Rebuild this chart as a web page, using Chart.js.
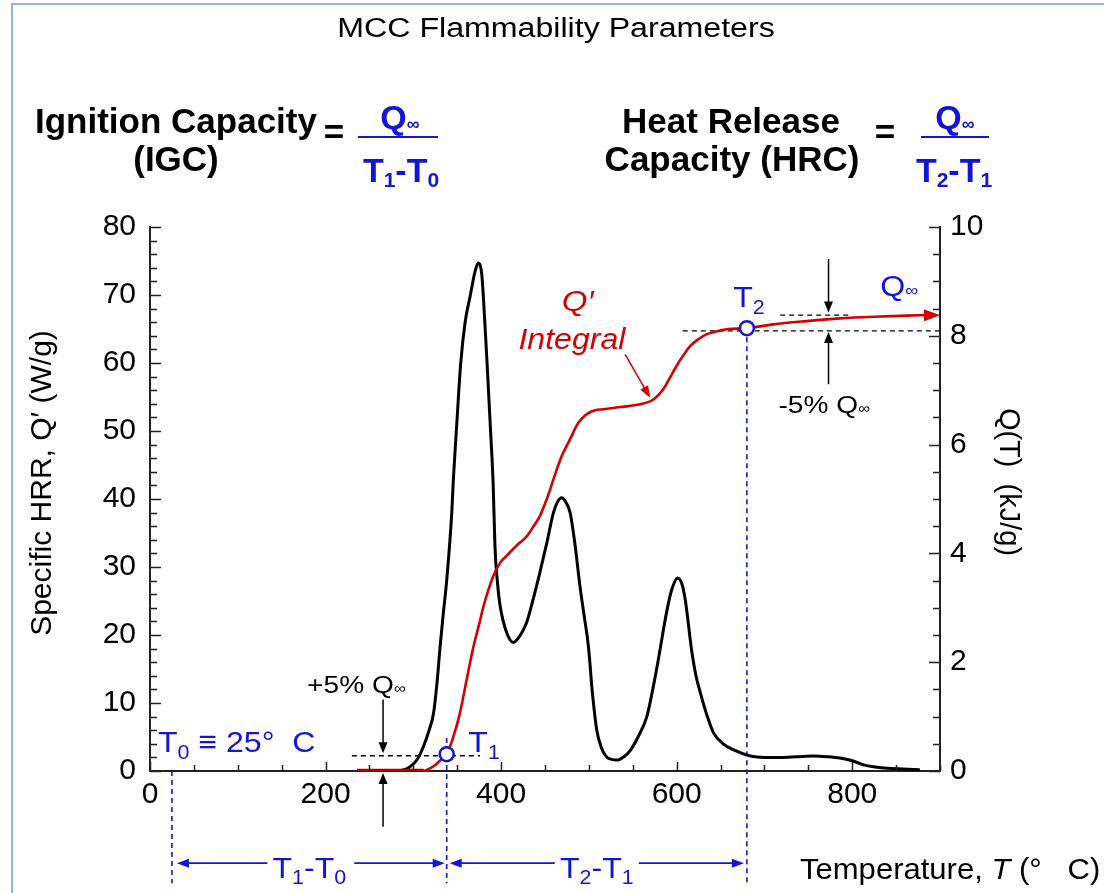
<!DOCTYPE html>
<html>
<head>
<meta charset="utf-8">
<script src="https://cdn.jsdelivr.net/npm/chart.js@4.4.1/dist/chart.umd.min.js"></script>
<style>
    html, body { margin: 0; padding: 0; background: #fff; }
    #wrap { position: relative; width: 1104px; height: 893px; overflow: hidden; }
    #frame { position: absolute; left: 11px; top: 3px; right: -4px; bottom: -4px; border-left: 2px solid #8db3e2; border-top: 2px solid #8db3e2; pointer-events: none; }
</style>
</head>
<body>
<div id="wrap"><canvas id="chart" width="1104" height="893"></canvas><div id="frame"></div></div>
<script>
// specific heat release rate (left axis, W/g)
var hrrTemp = [236, 280, 296, 305, 311.5, 318, 323, 327, 330.5, 334, 338, 343.8, 345.6, 349, 354, 359, 365, 370, 374, 378,
    381, 384, 388, 391, 393, 396, 399, 406.5, 414, 421, 429, 436, 444, 452, 459.6, 464, 469, 474, 478.6, 484,
    490, 495, 499.5, 504, 509, 514, 520, 526, 532, 540, 547, 556, 566, 575, 581, 588, 594, 601, 606, 610,
    617, 622, 627, 635, 642, 653, 665, 684, 700, 718, 737, 756, 771, 786, 800, 813, 826, 840, 858, 877];
var hrrRate = [0, 0, 0.6, 1.8, 3.6, 6, 8.5, 13, 18.3, 23, 28, 38, 42.9, 50, 60, 66, 70, 73.3, 74.7, 73,
    67, 60, 50, 42, 33, 27.5, 24.2, 20.3, 18.9, 19.8, 21.8, 25, 29.1, 33.5, 38, 39.5, 40.2, 39.5, 38, 33.5,
    27, 22.5, 18.3, 11.5, 6, 3.5, 2.1, 1.7, 1.6, 2.1, 3, 5, 8, 13.5, 17.8, 23, 26.5, 28.4, 27.5, 25,
    17.8, 14, 11.5, 8, 5.6, 4, 3.1, 2.2, 2.0, 2.0, 2.1, 2.2, 2.1, 1.9, 1.5, 0.9, 0.6, 0.4, 0.3, 0.2];

// integral Q(T) (right axis, kJ/g)
var qTemp = [236, 312, 318, 325, 331, 338, 345, 353, 361, 368.5, 375, 380, 391, 399, 406.5, 418, 429, 437, 444, 452,
    459.6, 468, 478.6, 488, 497.6, 507, 516.6, 535.6, 558.4, 573.6, 585, 592, 600, 608, 615.4, 624, 634.4, 645, 657, 680,
    710, 748, 786, 824, 862, 884];
var qHeat = [0, 0, 0.04, 0.11, 0.2, 0.31, 0.6, 1.06, 1.7, 2.29, 2.7, 3.03, 3.58, 3.83, 3.96, 4.15, 4.31, 4.5, 4.68, 5.0,
    5.36, 5.75, 6.1, 6.4, 6.56, 6.63, 6.65, 6.69, 6.74, 6.83, 7.02, 7.22, 7.45, 7.65, 7.81, 7.93, 8.03, 8.08, 8.12, 8.14,
    8.21, 8.27, 8.32, 8.35, 8.37, 8.38];

// T1 and T2 on the integral curve, T0 = 25 C
var markTemp = [338, 680];
var markHeat = [0.31, 8.14];
var T0 = 25;
var qPlus5 = 0.28;     // +5% level
var qMinus5 = 8.09;    // -5% level
var qInf = 8.38;       // Q infinity

var xTicks = [0, 200, 400, 600, 800];
var yTicks = [0, 10, 20, 30, 40, 50, 60, 70, 80];
var y1Ticks = [0, 2, 4, 6, 8, 10];

var FONT = "'Liberation Sans', Arial, sans-serif";
var BLUE = '#1414d8';
var RED = '#d20000';

function fnt(size, style) {
    return (style ? style + ' ' : '') + size + 'px ' + FONT;
}

// parts: [text, size, style, dy]; k = horizontal stretch
function drawRuns(ctx, x, y, parts, color, align, k) {
    k = k || 1;
    var w = 0;
    parts.forEach(function (p) {
        ctx.font = fnt(p[1], p[2]);
        w += ctx.measureText(p[0]).width;
    });
    var cx = align === 'center' ? x - w * k / 2 : x;
    ctx.save();
    ctx.translate(cx, y);
    ctx.scale(k, 1);
    ctx.fillStyle = color;
    ctx.textAlign = 'left';
    ctx.textBaseline = 'alphabetic';
    var run = 0;
    parts.forEach(function (p) {
        ctx.font = fnt(p[1], p[2]);
        ctx.fillText(p[0], run, p[3] || 0);
        run += ctx.measureText(p[0]).width;
    });
    ctx.restore();
}

function arrow(ctx, x1, y1, x2, y2, color, lw, hl, hw) {
    var a = Math.atan2(y2 - y1, x2 - x1);
    var c = Math.cos(a), s = Math.sin(a);
    ctx.save();
    ctx.setLineDash([]);
    ctx.strokeStyle = color;
    ctx.fillStyle = color;
    ctx.lineWidth = lw;
    ctx.beginPath();
    ctx.moveTo(x1, y1);
    ctx.lineTo(x2 - c * hl * 0.7, y2 - s * hl * 0.7);
    ctx.stroke();
    ctx.beginPath();
    ctx.moveTo(x2, y2);
    ctx.lineTo(x2 - c * hl - s * hw, y2 - s * hl + c * hw);
    ctx.lineTo(x2 - c * hl + s * hw, y2 - s * hl - c * hw);
    ctx.closePath();
    ctx.fill();
    ctx.restore();
}

function dashed(ctx, x1, y1, x2, y2, color, lw) {
    ctx.save();
    ctx.strokeStyle = color;
    ctx.lineWidth = lw;
    ctx.setLineDash([5, 4]);
    ctx.beginPath();
    ctx.moveTo(x1, y1);
    ctx.lineTo(x2, y2);
    ctx.stroke();
    ctx.restore();
}

var guides = {
    id: 'guides',
    beforeDatasetsDraw: function (chart) {
        var ctx = chart.ctx;
        var sx = chart.scales.x, sy = chart.scales.y, sq = chart.scales.y1;
        var X = function (v) { return sx.getPixelForValue(v); };
        var Y = function (v) { return sy.getPixelForValue(v); };
        var Q = function (v) { return sq.getPixelForValue(v); };
        var low = Y(-16.5);

        // blue verticals at T0, T1, T2
        dashed(ctx, X(T0), Y(0), X(T0), low, BLUE, 1.6);
        dashed(ctx, X(markTemp[0]), Y(4.86), X(markTemp[0]), low, BLUE, 1.6);
        dashed(ctx, X(markTemp[1]), Q(markHeat[1]), X(markTemp[1]), low, BLUE, 1.6);

        // black +-5% levels
        dashed(ctx, X(230), Q(qPlus5), X(376), Q(qPlus5), '#000', 1.4);
        dashed(ctx, X(607), Q(qMinus5), X(900), Q(qMinus5), '#000', 1.4);
        dashed(ctx, X(718), Q(qInf), X(800), Q(qInf), '#000', 1.4);
    },
    afterDraw: function (chart) {
        var ctx = chart.ctx;
        var area = chart.chartArea;
        var sx = chart.scales.x, sy = chart.scales.y, sq = chart.scales.y1;
        var X = function (v) { return sx.getPixelForValue(v); };
        var Y = function (v) { return sy.getPixelForValue(v); };
        var Q = function (v) { return sq.getPixelForValue(v); };
        var i, v, p, len;

        // inward tick marks
        ctx.save();
        ctx.strokeStyle = '#222';
        ctx.lineWidth = 1.5;
        ctx.beginPath();
        for (i = 0; i <= 40; i++) {
            v = i * 2;
            p = Math.round(Y(v)) + 0.5;
            len = v % 10 === 0 ? 11 : 7;
            ctx.moveTo(area.left, p);
            ctx.lineTo(area.left + len, p);
        }
        for (i = 0; i <= 20; i++) {
            v = i * 0.5;
            p = Math.round(Q(v)) + 0.5;
            len = i % 4 === 0 ? 11 : 7;
            ctx.moveTo(area.right, p);
            ctx.lineTo(area.right - len, p);
        }
        for (i = 0; i <= 18; i++) {
            v = i * 50;
            p = Math.round(X(v)) + 0.5;
            len = v % 200 === 0 ? 9 : 6;
            ctx.moveTo(p, area.bottom);
            ctx.lineTo(p, area.bottom - len);
        }
        ctx.stroke();
        ctx.restore();

        // red arrow head at the end of the integral
        arrow(ctx, X(884), Q(qInf), X(900), Q(qInf), RED, 3, 16, 6);

        // black pointer arrows
        arrow(ctx, X(265.5), Y(10.5), X(265.5), Y(2.6), '#000', 1.5, 11, 4.5);
        arrow(ctx, X(265.5), Y(-8.2), X(265.5), Y(-0.3), '#000', 1.5, 11, 4.5);
        arrow(ctx, X(773), Q(9.41), X(773), Q(8.43), '#000', 1.5, 11, 4.5);
        arrow(ctx, X(773), Q(7.11), X(773), Q(8.07), '#000', 1.5, 11, 4.5);
        // red pointer to the integral
        arrow(ctx, X(541.3), Q(7.66), X(569.8), Q(6.86), RED, 1.5, 12, 4.5);

        // blue span arrows below the axis
        var yb = Y(-13.55);
        var t1 = X(markTemp[0]), t2 = X(markTemp[1]), t0 = X(T0);
        var m1 = (t0 + t1) / 2, m2 = (t1 + t2) / 2;
        arrow(ctx, m1 - 42, yb, t0 + 5, yb, BLUE, 1.6, 12, 4.5);
        arrow(ctx, m1 + 45, yb, t1 - 2, yb, BLUE, 1.6, 12, 4.5);
        arrow(ctx, m2 - 42, yb, t1 + 3, yb, BLUE, 1.6, 12, 4.5);
        arrow(ctx, m2 + 42, yb, t2 - 3, yb, BLUE, 1.6, 12, 4.5);
        drawRuns(ctx, m1, Y(-15.76), [['T', 30], ['1', 20, '', 6], ['-T', 30], ['0', 20, '', 6]], BLUE, 'center', 1.07);
        drawRuns(ctx, m2, Y(-15.76), [['T', 30], ['2', 20, '', 6], ['-T', 30], ['1', 20, '', 6]], BLUE, 'center', 1.07);

        // in-plot labels
        drawRuns(ctx, X(9), Y(2.84), [['T', 30], ['0', 20, '', 7], [' \u2261 25\u00b0  C', 30]], BLUE, 'left', 1.07);
        drawRuns(ctx, X(362.7), Y(2.84), [['T', 30], ['1', 20, '', 7]], BLUE, 'left', 1.07);
        drawRuns(ctx, X(664.4), Q(8.53), [['T', 30], ['2', 20, '', 7]], BLUE, 'left', 1.07);
        drawRuns(ctx, X(832), Q(8.73), [['Q', 30], ['\u221e', 17, '', 0]], BLUE, 'left', 1.07);
        drawRuns(ctx, X(179), Y(11.5), [['+5% Q', 24], ['\u221e', 14, '', 0]], '#000', 'left', 1.17);
        drawRuns(ctx, X(716), Q(6.59), [['-5% Q', 24], ['\u221e', 14, '', 0]], '#000', 'left', 1.17);
        drawRuns(ctx, X(469.2), Q(8.46), [['Q\u2032', 30, 'italic']], RED, 'left', 1.1);
        drawRuns(ctx, X(419.7), Q(7.75), [['Integral', 30, 'italic']], RED, 'left', 1.07);

        // axis titles
        ctx.save();
        ctx.fillStyle = '#000';
        ctx.font = fnt(30);
        ctx.textAlign = 'center';
        ctx.textBaseline = 'middle';
        ctx.translate(43, 483);
        ctx.rotate(-Math.PI / 2);
        ctx.fillText('Specific HRR, Q\u2032 (W/g)', 0, 0);
        ctx.restore();
        ctx.save();
        ctx.fillStyle = '#000';
        ctx.font = fnt(29);
        ctx.textAlign = 'center';
        ctx.textBaseline = 'middle';
        ctx.translate(1008, 482);
        ctx.rotate(Math.PI / 2);
        ctx.fillText('Q(T)  (kJ/g)', 0, 0);
        ctx.restore();
        drawRuns(ctx, 800, 879, [['Temperature, ', 29], ['T', 29, 'italic'], [' (\u00b0   C)', 29]], '#000', 'left', 1.07);

        // heading
        drawRuns(ctx, 556, 37, [['MCC Flammability Parameters', 27]], '#000', 'center', 1.19);
        ctx.save();
        ctx.fillStyle = '#000';
        ctx.font = fnt(35, 'bold');
        ctx.textAlign = 'left';
        ctx.textBaseline = 'alphabetic';
        ctx.fillText('Ignition Capacity', 35, 133);
        ctx.textAlign = 'center';
        ctx.fillText('(IGC)', 176, 171);
        ctx.fillText('Heat Release', 731, 133);
        ctx.fillText('Capacity (HRC)', 732, 171);
        ctx.textBaseline = 'middle';
        ctx.fillText('=', 334, 134);
        ctx.fillText('=', 885, 134);
        ctx.fillStyle = BLUE;
        ctx.fillRect(358, 136, 80, 2);
        ctx.fillRect(921, 136, 68, 2);
        ctx.restore();
        drawRuns(ctx, 400, 129, [['Q', 34, 'bold'], ['\u221e', 18, 'bold', 1]], BLUE, 'center');
        drawRuns(ctx, 401, 182, [['T', 34, 'bold'], ['1', 21, 'bold', 5], ['-T', 34, 'bold'], ['0', 21, 'bold', 5]], BLUE, 'center');
        drawRuns(ctx, 955, 129, [['Q', 34, 'bold'], ['\u221e', 18, 'bold', 1]], BLUE, 'center');
        drawRuns(ctx, 954, 182, [['T', 34, 'bold'], ['2', 21, 'bold', 5], ['-T', 34, 'bold'], ['1', 21, 'bold', 5]], BLUE, 'center');
    }
};

function pairs(xs, ys) {
    return xs.map(function (t, i) { return { x: t, y: ys[i] }; });
}

var tickFont = { family: FONT, size: 30 };
// tick marks are drawn by the guides plugin, so keep the library's tick gap at zero
var noTicks = { display: false, drawTicks: false };

var chart = new Chart(document.getElementById('chart'), {
    type: 'line',
    data: {
        datasets: [{
            label: 'T1 / T2',
            data: pairs(markTemp, markHeat),
            yAxisID: 'y1',
            showLine: false,
            pointRadius: 7,
            pointBorderWidth: 2.5,
            pointBorderColor: BLUE,
            pointBackgroundColor: '#fff',
            order: 0
        }, {
            label: 'Q integral',
            data: pairs(qTemp, qHeat),
            yAxisID: 'y1',
            borderColor: RED,
            borderWidth: 2.6,
            pointRadius: 0,
            cubicInterpolationMode: 'monotone',
            segment: {
                borderWidth: function (c) { return c.p0.parsed.x < 312 ? 4.5 : 2.6; },
                borderColor: function (c) { return c.p0.parsed.x < 312 ? '#b00000' : RED; }
            },
            order: 1
        }, {
            label: 'HRR',
            data: pairs(hrrTemp, hrrRate),
            yAxisID: 'y',
            borderColor: '#000',
            borderWidth: 3,
            pointRadius: 0,
            cubicInterpolationMode: 'monotone',
            order: 2
        }]
    },
    options: {
        responsive: false,
        animation: false,
        layout: { padding: { top: 227, left: 0, right: 0, bottom: 0 } },
        plugins: { legend: { display: false }, tooltip: { enabled: false } },
        scales: {
            x: {
                type: 'linear',
                min: 0,
                max: 900,
                grid: noTicks,
                border: { display: true, color: '#222', width: 2 },
                ticks: { font: tickFont, color: '#000', padding: 6, maxRotation: 0, autoSkip: false },
                afterBuildTicks: function (s) { s.ticks = xTicks.map(function (v) { return { value: v }; }); },
                afterFit: function (s) { s.height = 122; }
            },
            y: {
                position: 'left',
                min: 0,
                max: 80,
                grid: noTicks,
                border: { display: true, color: '#222', width: 2 },
                ticks: { font: tickFont, color: '#000', padding: 14 },
                afterBuildTicks: function (s) { s.ticks = yTicks.map(function (v) { return { value: v }; }); },
                afterFit: function (s) { s.width = 150; }
            },
            y1: {
                position: 'right',
                min: 0,
                max: 10,
                grid: noTicks,
                border: { display: true, color: '#222', width: 2 },
                ticks: { font: tickFont, color: '#000', padding: 10 },
                afterBuildTicks: function (s) { s.ticks = y1Ticks.map(function (v) { return { value: v }; }); },
                afterFit: function (s) { s.width = 164; }
            }
        }
    },
    plugins: [guides]
});
</script>
</body>
</html>
